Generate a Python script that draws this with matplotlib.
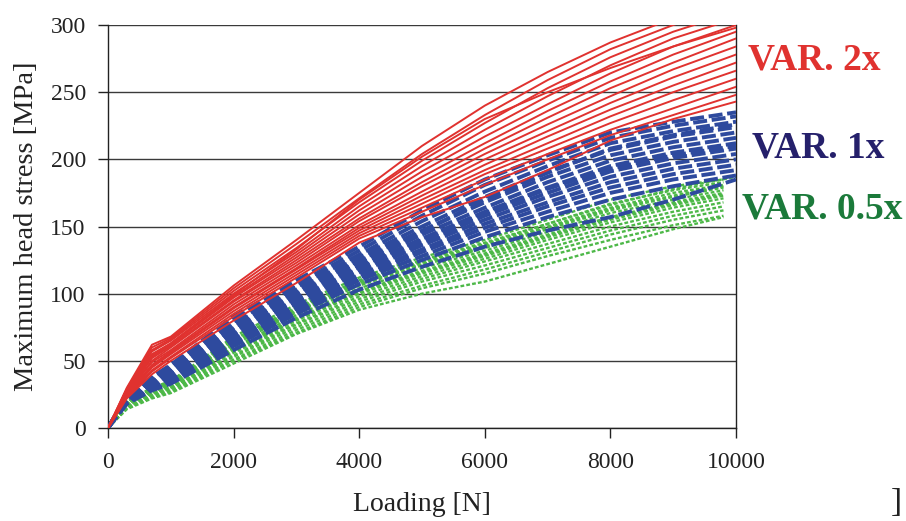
import matplotlib.pyplot as plt

plt.rcParams['font.family'] = ['Liberation Serif', 'DejaVu Serif']

# loading points [N]
loads = [0, 300, 700, 1000, 2000, 3000, 4000, 5000, 6000, 7000, 8000, 9000, 10000]
loads_green = [0, 300, 700, 1000, 2000, 3000, 4000, 5000, 6000, 7000, 8000, 9000, 9800]

# VAR. 2x  (red, solid)
var2x = [
    [0, 30, 62, 68, 106, 140, 175, 210, 240, 265, 287, 305, 320],
    [0, 29, 60, 67, 104, 137, 171, 204, 233, 259, 282, 300, 315],
    [0, 29, 58, 66, 102, 134, 168, 199, 227, 253, 276, 295, 310],
    [0, 28, 57, 65, 100, 131, 165, 195, 222, 247, 270, 290, 305],
    [0, 28, 55, 63, 98, 129, 162, 191, 217, 241, 264, 284, 300],
    [0, 27, 53, 62, 97, 127, 159, 187, 212, 236, 258, 278, 295],
    [0, 27, 52, 61, 95, 125, 156, 183, 208, 231, 253, 272, 290],
    [0, 26, 50, 60, 94, 123, 154, 180, 204, 226, 247, 267, 284],
    [0, 26, 49, 58, 92, 121, 151, 176, 200, 221, 242, 261, 278],
    [0, 25, 47, 57, 90, 119, 149, 173, 196, 217, 237, 255, 272],
    [0, 25, 46, 56, 89, 118, 147, 170, 192, 212, 232, 250, 266],
    [0, 24, 45, 55, 87, 116, 145, 167, 189, 208, 227, 244, 260],
    [0, 24, 43, 53, 85, 114, 143, 164, 185, 204, 222, 238, 254],
    [0, 23, 42, 52, 83, 112, 141, 161, 181, 200, 218, 233, 248],
    [0, 22, 40, 50, 80, 108, 138, 157, 172, 192, 214, 230, 243],
    [0, 27, 54, 63, 99, 133, 170, 202, 230, 250, 268, 284, 298],
]

# VAR. 1x  (blue, dashed)
var1x = [
    [0, 25, 38, 47, 83, 110, 135, 162, 185, 203, 220, 228, 235],
    [0, 24, 37, 46, 81, 107, 132, 158, 181, 199, 216, 225, 232],
    [0, 24, 36, 45, 79, 105, 129, 154, 176, 195, 212, 221, 228],
    [0, 23, 35, 44, 77, 103, 127, 150, 172, 191, 207, 217, 224],
    [0, 23, 35, 43, 75, 101, 125, 147, 168, 187, 203, 213, 220],
    [0, 22, 34, 42, 73, 99, 122, 144, 164, 183, 199, 209, 216],
    [0, 22, 33, 41, 72, 97, 120, 141, 161, 179, 195, 205, 212],
    [0, 21, 33, 40, 70, 95, 118, 138, 158, 175, 191, 201, 208],
    [0, 21, 32, 39, 68, 93, 116, 136, 155, 172, 187, 197, 204],
    [0, 20, 31, 38, 66, 91, 114, 133, 152, 168, 183, 193, 200],
    [0, 20, 31, 37, 65, 89, 112, 131, 149, 165, 179, 189, 196],
    [0, 19, 30, 36, 63, 87, 110, 128, 146, 161, 175, 185, 192],
    [0, 19, 29, 35, 61, 85, 107, 125, 142, 157, 170, 180, 188],
    [0, 18, 28, 33, 58, 82, 103, 120, 135, 147, 157, 170, 185],
    [0, 22, 34, 42, 74, 100, 124, 146, 170, 190, 208, 218, 226],
    [0, 21, 32, 40, 69, 96, 119, 140, 160, 178, 193, 203, 210],
]

# VAR. 0.5x  (green, dotted)
var05x = [
    [0, 20, 30, 35, 68, 92, 112, 127, 140, 155, 170, 180, 185],
    [0, 20, 29, 34, 66, 90, 110, 125, 138, 152, 167, 177, 183],
    [0, 19, 29, 34, 64, 88, 108, 123, 136, 150, 164, 175, 181],
    [0, 19, 28, 33, 62, 86, 106, 121, 134, 148, 162, 172, 179],
    [0, 18, 27, 32, 60, 84, 104, 119, 132, 146, 160, 170, 177],
    [0, 18, 27, 32, 59, 82, 102, 117, 130, 144, 157, 168, 175],
    [0, 17, 26, 31, 57, 80, 100, 115, 128, 142, 155, 166, 173],
    [0, 17, 26, 30, 56, 78, 98, 113, 126, 140, 153, 164, 171],
    [0, 16, 25, 30, 54, 77, 96, 111, 124, 137, 150, 161, 168],
    [0, 16, 25, 29, 53, 75, 94, 109, 121, 134, 147, 158, 165],
    [0, 15, 24, 28, 51, 73, 92, 106, 118, 131, 144, 155, 162],
    [0, 15, 23, 27, 50, 71, 90, 104, 115, 128, 140, 151, 158],
    [0, 14, 22, 26, 48, 70, 88, 100, 109, 122, 135, 148, 157],
    [0, 18, 28, 33, 63, 87, 107, 122, 135, 149, 163, 173, 180],
    [0, 17, 27, 31, 58, 81, 101, 116, 129, 143, 156, 167, 174],
]
var05x_long = [0, 19, 29, 34, 65, 89, 109, 124, 137, 152, 166, 178, 187]

fig = plt.figure(figsize=(9.06, 5.21), dpi=100)
ax = fig.add_axes([0.1192, 0.1785, 0.6932, 0.7735])

for s in var05x:
    ax.plot(loads_green, s, color='#4DB848', lw=1.7, ls=(0, (1.6, 0.9)), zorder=2)
ax.plot(loads, var05x_long, color='#4DB848', lw=1.7, ls=(0, (1.6, 0.9)), zorder=2)
for s in var1x:
    ax.plot(loads, s, color='#2E4A9E', lw=2.8, ls=(0, (3.6, 1.2)), zorder=3)
for s in var2x:
    ax.plot(loads, s, color='#E0322F', lw=1.4, zorder=4)

ax.set_xlim(0, 10000)
ax.set_ylim(0, 300)
ax.set_xticks(range(0, 10001, 2000))
ax.set_yticks(range(0, 301, 50))
ax.yaxis.grid(True, color='#3a3a3a', lw=1.0)
ax.set_axisbelow(True)
ax.spines['top'].set_visible(False)
for sp in ['left', 'bottom', 'right']:
    ax.spines[sp].set_color('#222222')
    ax.spines[sp].set_linewidth(1.0)
ax.tick_params(axis='both', direction='out', length=7, width=1.0,
               labelsize=17, colors='#222222')
ax.tick_params(axis='x', pad=10)
ax.tick_params(axis='y', pad=9)

ax.set_xlabel('Loading [N]', fontsize=20, color='#222222', labelpad=14)
ax.set_ylabel('Maximum head stress [MPa]', fontsize=20.5, color='#222222', labelpad=8)

fig.text(0.8256, 0.885, 'VAR. 2x', color='#E0322F', fontsize=27,
         fontweight='bold', va='center', ha='left')
fig.text(0.830, 0.716, 'VAR. 1x', color='#25206B', fontsize=27,
         fontweight='bold', va='center', ha='left')
fig.text(0.819, 0.599, 'VAR. 0.5x', color='#1B7A3A', fontsize=27,
         fontweight='bold', va='center', ha='left')
fig.text(0.995, 0.005, ']', color='#222222', fontsize=24, ha='right', va='bottom')

fig.savefig('out.png', dpi=100)
